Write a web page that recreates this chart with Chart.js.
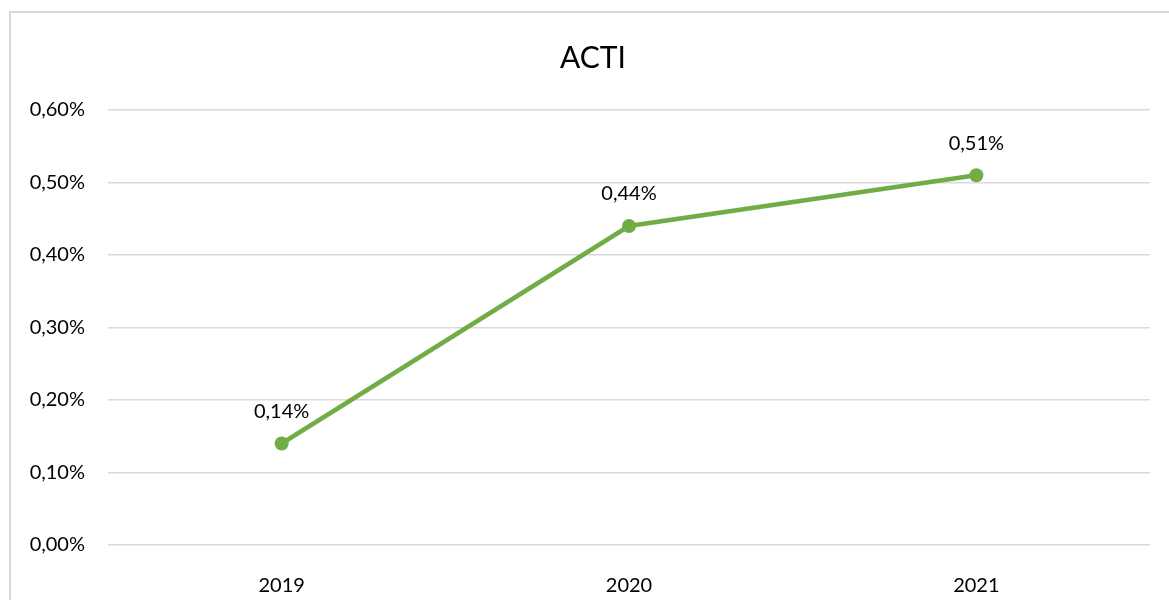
<!DOCTYPE html>
<html>
<head>
<meta charset="utf-8">
<script src="https://cdn.jsdelivr.net/npm/chart.js@4"></script>
<style>
  html, body { margin: 0; padding: 0; background: #fff; overflow: hidden; }
  #frame { position: absolute; left: 9px; top: 11px; width: 1200px; height: 640px; border: 2px solid #d9d9d9; }
  #wrap { position: absolute; left: 0; top: 0; width: 1169px; height: 600px; }
</style>
</head>
<body>
<div id="frame"></div>
<div id="wrap"><canvas id="chart" width="1169" height="600"></canvas></div>
<script>
// Chart data (values in percent)
let chartTitle = "ACTI";
let years = ["2019", "2020", "2021"];
let acti = [0.14, 0.44, 0.51];
let yTicks = [0, 0.1, 0.2, 0.3, 0.4, 0.5, 0.6];

// Format like "0,44%"
function pct(v) {
    return v.toFixed(2).replace(".", ",") + "%";
}

// Title centred on the outer frame, not on the canvas
let frameTitle = {
    id: "frameTitle",
    afterDraw(chart) {
        let ctx = chart.ctx;
        ctx.save();
        ctx.font = "30px Lato";
        ctx.fillStyle = "#000";
        ctx.textAlign = "center";
        ctx.textBaseline = "middle";
        ctx.fillText(chartTitle, 593, 58);
        ctx.restore();
    }
};

// Draw the value above each point
let valueLabels = {
    id: "valueLabels",
    afterDatasetsDraw(chart) {
        let ctx = chart.ctx;
        let meta = chart.getDatasetMeta(0);
        ctx.save();
        ctx.font = "20px Lato";
        ctx.fillStyle = "#000";
        ctx.textAlign = "center";
        ctx.textBaseline = "middle";
        meta.data.forEach(function (pt, i) {
            ctx.fillText(pct(acti[i]), pt.x, pt.y - 32);
        });
        ctx.restore();
    }
};

let canvas = document.getElementById("chart").getContext("2d");

new Chart(canvas, {
    type: "line",
    data: {
        labels: years,
        datasets: [{
            label: chartTitle,
            data: acti,
            borderColor: "#70ad47",
            backgroundColor: "#70ad47",
            borderWidth: 4.5,
            pointRadius: 7,
            pointBackgroundColor: "#70ad47",
            pointBorderWidth: 0,
            tension: 0
        }]
    },
    options: {
        responsive: false,
        animation: false,
        layout: { padding: { left: 0, right: 19, top: 110, bottom: 0 } },
        plugins: {
            legend: { display: false },
            tooltip: { enabled: false },
            title: { display: false }
        },
        scales: {
            x: {
                offset: true,
                grid: { display: false },
                border: { display: false },
                ticks: { color: "#000", font: { family: "Lato", size: 20 }, padding: 21 },
                afterFit(scale) { scale.height = 55; }
            },
            y: {
                min: 0,
                max: 0.6,
                afterBuildTicks(scale) { scale.ticks = yTicks.map(function (v) { return { value: v }; }); },
                grid: { color: "#d9d9d9", lineWidth: 1.5, drawTicks: false },
                border: { display: false },
                ticks: {
                    color: "#000",
                    font: { family: "Lato", size: 20 },
                    padding: 23,
                    callback: function (v) { return pct(v); }
                },
                afterFit(scale) { scale.width = 108; }
            }
        }
    },
    plugins: [valueLabels, frameTitle]
});
</script>
</body>
</html>
